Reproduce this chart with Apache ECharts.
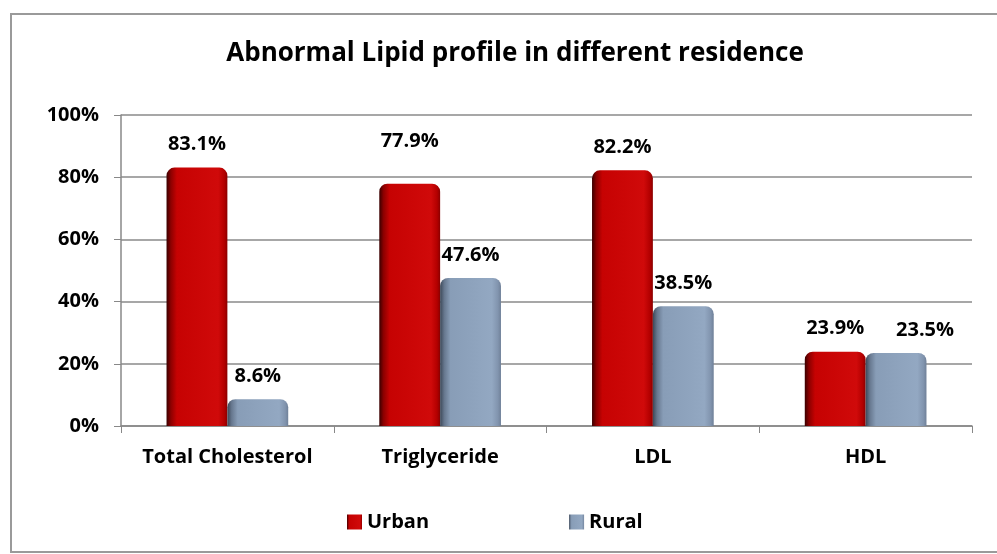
<!DOCTYPE html>
<html>
<head>
<meta charset="utf-8">
<script src="https://cdn.jsdelivr.net/npm/echarts@6/dist/echarts.min.js"></script>
<style>
html,body{margin:0;padding:0;background:#fff;}
#chart{width:997px;height:554px;}
</style>
</head>
<body>
<div id="chart"></div>
<script>
var categories = ['Total Cholesterol', 'Triglyceride', 'LDL', 'HDL'];
var urban = [83.1, 77.9, 82.2, 23.9];
var rural = [8.6, 47.6, 38.5, 23.5];
var yTicks = [0, 20, 40, 60, 80, 100];

var FONT = 'Open Sans';

function grad(stops) {
  return new echarts.graphic.LinearGradient(0, 0, 1, 0, stops.map(function (s) { return { offset: s[0], color: s[1] }; }));
}
var urbanColor = grad([[0, '#3a0000'], [0.07, '#8c0000'], [0.17, '#c60202'], [0.85, '#d00a0a'], [0.95, '#b30000'], [1, '#8a0000']]);
var ruralColor = grad([[0, '#3c4858'], [0.07, '#67788f'], [0.17, '#889db7'], [0.85, '#93a8c2'], [0.95, '#8194ae'], [1, '#6f8098']]);

var labelBase = {
  show: true,
  position: 'top',
  distance: 13,
  color: '#000',
  fontFamily: FONT,
  fontWeight: 'bold',
  fontSize: 20,
  formatter: function (p) { return p.value.toFixed(1) + '%'; }
};

function buildData(values, overrides) {
  return values.map(function (v, i) {
    var item = { value: v };
    if (overrides[i]) item.label = { offset: overrides[i] };
    return item;
  });
}

var chart = echarts.init(document.getElementById('chart'), null, { renderer: 'canvas' });
chart.setOption({
  backgroundColor: '#fff',
  animation: false,
  title: {
    text: 'Abnormal Lipid profile in different residence',
    left: 510,
    textAlign: 'center',
    top: 36,
    textStyle: { fontFamily: FONT, fontWeight: 'bold', fontSize: 26, color: '#000' }
  },
  graphic: [{
    type: 'rect',
    shape: { x: 11, y: 14, width: 995, height: 538 },
    style: { fill: 'none', stroke: '#9a9a9a', lineWidth: 2 },
    silent: true,
    z: -1
  }],
  legend: {
    left: 347,
    top: 512,
    padding: 0,
    itemWidth: 15,
    itemHeight: 15,
    itemGap: 140,
    icon: 'rect',
    textStyle: { fontFamily: FONT, fontWeight: 'bold', fontSize: 20, color: '#000' },
    data: ['Urban', 'Rural']
  },
  grid: { left: 121, right: 25, top: 115, bottom: 128, containLabel: false },
  xAxis: {
    type: 'category',
    data: categories,
    axisLine: { show: true, lineStyle: { color: '#888', width: 1.5 } },
    axisTick: { show: true, length: 7, lineStyle: { color: '#888' } },
    axisLabel: { interval: 0, margin: 21, color: '#000', fontFamily: FONT, fontWeight: 'bold', fontSize: 20 }
  },
  yAxis: {
    type: 'value',
    min: 0,
    max: 100,
    interval: 20,
    axisLine: { show: true, lineStyle: { color: '#888', width: 1.5 } },
    axisTick: { show: true, length: 7, lineStyle: { color: '#888' } },
    splitLine: { show: true, lineStyle: { color: '#8a8a8a', width: 1.5 } },
    axisLabel: {
      margin: 22,
      color: '#000',
      fontFamily: FONT,
      fontWeight: 'bold',
      fontSize: 20,
      formatter: function (v) { return yTicks.indexOf(v) >= 0 ? v + '%' : ''; }
    }
  },
  series: [
    {
      name: 'Urban',
      type: 'bar',
      barWidth: '28.6%',
      barGap: '0%',
      itemStyle: { color: urbanColor, borderRadius: [8, 8, 0, 0] },
      label: labelBase,
      data: buildData(urban, { 1: [0, -19] })
    },
    {
      name: 'Rural',
      type: 'bar',
      barWidth: '28.6%',
      itemStyle: { color: ruralColor, borderRadius: [8, 8, 0, 0] },
      label: labelBase,
      data: buildData(rural, { 3: [29, 0] })
    }
  ]
});
</script>
</body>
</html>
